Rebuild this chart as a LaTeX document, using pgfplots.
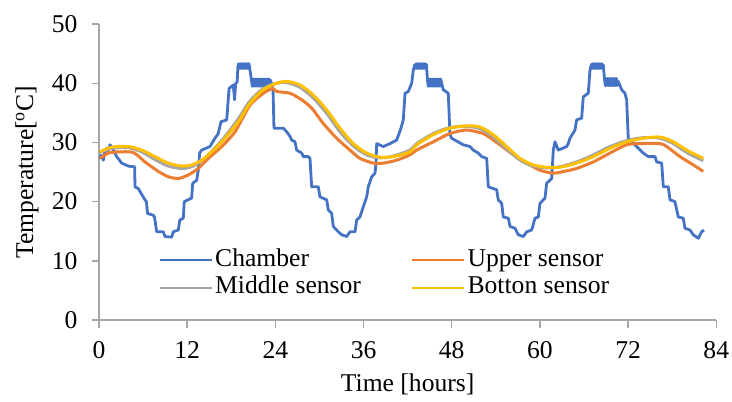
\documentclass[border=0pt]{standalone}
\usepackage{fontspec}
\setmainfont{Liberation Serif}
\usepackage{pgfplots}
\pgfplotsset{compat=1.18}

\definecolor{chamber}{HTML}{4472C4}
\definecolor{upper}{HTML}{ED7D31}
\definecolor{middle}{HTML}{A5A5A5}
\definecolor{bottom}{HTML}{FFC000}
\definecolor{axisgray}{HTML}{A6A6A6}

\newcommand{\chartfont}{\fontsize{12.8}{14}\selectfont}

\begin{document}
\begin{tikzpicture}
\begin{axis}[
  name=ax,
  width=308.65pt, height=148pt, scale only axis,
  xmin=0, xmax=84, ymin=0, ymax=50,
  xtick={0,12,...,84}, ytick={0,10,...,50},
  axis x line*=bottom, axis y line*=left,
  axis line style={axisgray, line width=0.7pt, -},
  tick align=outside, major tick length=3.75pt,
  tick style={axisgray, line width=0.7pt},
  /pgf/number format/assume math mode=true,
  tick label style={font=\chartfont},
  xticklabel style={yshift=-3.5pt},
  yticklabel style={xshift=-3.5pt},
  xlabel={Time [hours]},
  ylabel={Temperature[\textsuperscript{o}C]},
  every axis x label/.style={at={(rel axis cs:0.5,-0.243)}, anchor=base, font=\chartfont},
  every axis y label/.style={at={(rel axis cs:-0.1166,0.5)}, anchor=center, rotate=90, font=\chartfont},
  legend columns=2,
  legend style={draw=none, fill=none, inner sep=0pt,
    at={(rel axis cs:0.0961,0.25)}, anchor=north west, font=\chartfont,
    nodes={inner xsep=1.25pt, inner ysep=0.9pt, text height=9pt, text depth=3pt}},
  legend cell align=left,
  legend image code/.code={\draw[#1, line width=1pt] (0pt,0pt) -- (26pt,0pt);},
  line join=round,
]

% chamber air temperature (logger noise shows as a thick band at the plateaus)
\addplot[chamber, line width=1.4pt] coordinates {
(0,27.3)(0.3,27.8)(0.59,27.0)(0.8,28.4)(1.05,29.0)(1.2,28.6)(1.5,29.6)(1.95,28.7)
(2.41,27.6)(3.09,26.5)(3.99,26.0)(4.67,25.9)(4.85,25.9)(4.90,22.5)(5.35,22.2)
(5.58,21.7)(6.26,20.3)(6.45,20.0)(6.6,18.0)(7.39,17.7)(7.55,17.4)(7.85,14.9)
(8.75,14.9)(8.98,14.1)(9.89,14.0)(10.11,14.9)(10.79,15.2)(11.0,16.9)(11.47,17.2)
(11.60,20.0)(12.61,20.6)(12.75,23.1)(13.29,23.6)(13.51,25.3)(13.7,28.2)(13.97,28.7)
(15.10,29.3)(15.78,30.7)(16.23,31.5)(16.60,33.5)(17.38,33.8)(17.70,39.1)(18.27,39.7)
(18.45,37.2)(18.6,40.0)(18.8,40.2)(18.9,42.8)
(19.0,43.3)(19.1,42.5)(19.2,43.3)(19.3,42.5)(19.4,43.3)(19.5,42.5)(19.6,43.3)(19.7,42.5)
(19.8,43.3)(19.9,42.5)(20.0,43.3)(20.1,42.5)(20.2,43.3)(20.3,42.5)(20.4,43.3)(20.5,42.6)
(20.75,40.5)(20.85,39.5)(20.95,40.7)(21.05,39.5)(21.15,40.7)(21.25,39.5)(21.35,40.7)
(21.45,39.5)(21.55,40.7)(21.65,39.5)(21.75,40.7)(21.85,39.5)(21.95,40.7)(22.05,39.5)
(22.15,40.7)(22.25,39.5)(22.35,40.7)(22.45,39.5)(22.55,40.7)(22.65,39.5)(22.75,40.7)
(22.85,39.5)(22.95,40.7)(23.05,39.5)(23.15,40.7)(23.25,39.5)(23.35,40.5)(23.5,39.8)
(23.68,38.9)(23.81,32.4)
(25.08,32.4)(25.54,31.8)(25.99,31.0)(26.22,30.4)(26.67,30.1)(26.90,28.7)(27.58,28.2)
(27.80,27.6)(28.48,27.6)(28.71,27.3)(28.94,22.5)(29.84,22.5)(30.07,20.8)(30.98,20.3)
(31.20,18.6)(31.66,18.0)(31.88,15.8)(32.56,14.9)(33.03,14.4)(33.71,14.1)(34.15,14.9)
(34.84,14.9)(35.07,16.9)(35.51,17.4)(35.96,19.1)(36.43,20.8)(36.64,22.5)(37.11,24.2)
(37.56,24.8)(37.69,26.5)(37.79,29.8)(38.69,29.3)(39.60,29.8)(40.51,30.4)(41.09,32.4)
(41.41,33.8)(41.64,38.3)(42.09,38.6)(42.55,40.0)(42.77,42.2)
(42.95,43.1)(43.05,42.5)(43.15,43.3)(43.25,42.5)(43.35,43.3)(43.45,42.5)(43.55,43.3)
(43.65,42.5)(43.75,43.3)(43.85,42.5)(43.95,43.3)(44.05,42.5)(44.15,43.3)(44.25,42.5)
(44.35,43.3)(44.45,42.5)(44.55,43.2)
(44.7,40.5)(44.8,39.5)(44.9,40.7)(45.0,39.5)(45.1,40.7)(45.2,39.5)(45.3,40.7)(45.4,39.5)
(45.5,40.7)(45.6,39.5)(45.7,40.7)(45.8,39.5)(45.9,40.7)(46.0,39.5)(46.1,40.7)(46.2,39.5)
(46.3,40.7)(46.4,39.5)(46.5,40.7)(46.63,40.0)
(46.85,38.9)(47.53,38.3)(47.76,31.3)(47.99,30.7)(49.57,29.6)(50.48,29.3)
(50.93,28.7)(51.61,28.2)(52.08,27.6)(52.76,27.3)(52.97,22.5)(54.12,22.0)(54.33,20.3)
(54.80,19.7)(55.01,17.4)(55.70,17.2)(55.93,15.8)(56.61,15.5)(57.06,14.4)(57.74,14.1)
(58.20,14.9)(58.88,15.2)(59.33,17.2)(59.78,17.4)(60.01,19.7)(60.69,20.6)(60.92,23.1)
(61.60,23.9)(61.82,28.7)(62.05,30.1)(62.50,28.7)(63.64,29.3)(63.86,29.8)(64.09,30.7)
(64.77,32.1)(65.00,33.8)(65.68,34.1)(65.90,37.7)(66.58,38.3)(66.81,42.2)
(67.0,43.2)(67.1,42.5)(67.2,43.3)(67.3,42.5)(67.4,43.3)(67.5,42.5)(67.6,43.3)(67.7,42.5)
(67.8,43.3)(67.9,42.5)(68.0,43.3)(68.1,42.5)(68.2,43.3)(68.3,42.5)(68.4,43.3)(68.5,42.5)
(68.62,43.1)
(68.8,40.5)(68.9,39.6)(69.0,40.8)(69.1,39.6)(69.2,40.8)(69.3,39.6)(69.4,40.8)(69.5,39.6)
(69.6,40.8)(69.7,39.6)(69.8,40.8)(69.9,39.6)(70.0,40.8)(70.1,39.6)(70.2,40.8)(70.3,39.6)
(70.4,40.8)(70.5,39.6)(70.66,40.3)
(71.13,38.9)(71.57,38.3)(71.80,37.2)(72.02,30.7)(73.17,29.3)(74.06,28.2)
(74.75,27.6)(75.66,27.6)(75.89,26.7)(76.57,26.5)(76.79,22.5)(77.47,22.5)(77.70,20.3)
(78.37,20.0)(78.83,17.4)(79.51,17.2)(79.74,15.5)(80.42,15.2)(80.87,14.4)(81.55,13.8)
(82.01,14.9)(82.32,15.2)
};
\addlegendentry{\makebox[96.7pt][l]{Chamber}}

% upper sensor
\addplot[upper, line width=1.5pt, smooth, tension=0.4] coordinates {
(0.14,27.3)(1.27,28.2)(2.63,28.4)(4.67,28.3)(6.26,26.7)(8.07,25.1)(9.43,24.2)
(10.79,23.9)(12.15,24.5)(13.51,25.6)(14.87,27.3)(16.70,29.3)(18.51,31.8)(20.55,36.3)
(22.36,38.3)(23.64,39.1)(24.18,38.6)(25.99,38.3)(27.58,37.2)(28.94,35.8)(30.52,33.2)
(32.34,30.7)(34.15,28.7)(35.51,27.3)(37.32,26.5)(38.69,26.5)(40.51,27.0)(42.32,27.9)
(43.23,28.7)(45.49,30.1)(47.76,31.5)(50.03,32.1)(52.29,31.5)(52.97,31.0)(54.56,29.6)
(56.38,27.9)(58.20,26.5)(60.01,25.3)(61.82,24.8)(63.64,25.2)(65.00,25.6)(67.26,26.7)
(69.53,28.2)(71.80,29.6)(73.62,29.8)(76.34,29.8)(77.25,29.3)(79.06,27.6)(80.87,26.2)
(82.23,25.1)
};
\addlegendentry{Upper sensor}

% middle sensor
\addplot[middle, line width=1.5pt, smooth] coordinates {
(0.14,28.3)(1.73,29.0)(3.99,29.1)(5.81,28.4)(7.62,27.1)(9.43,26.0)(11.25,25.6)
(12.61,25.9)(13.97,26.9)(15.34,28.5)(17.15,31.0)(18.96,34.0)(20.55,37.0)(22.36,39.1)
(24.18,40.0)(25.54,40.1)(27.35,39.3)(29.16,37.5)(30.98,34.9)(32.79,31.8)(34.60,29.4)
(36.43,27.9)(38.24,27.4)(40.05,27.7)(42.32,28.7)(43.23,29.8)(45.49,31.5)(47.76,32.5)
(50.03,32.7)(51.84,32.3)(53.65,30.9)(55.48,28.9)(57.29,27.0)(59.10,26.0)(60.92,25.7)
(62.73,25.9)(65.00,26.7)(67.26,27.9)(69.53,29.3)(71.80,30.3)(74.06,30.8)(76.34,30.7)
(78.15,29.8)(79.97,28.3)(82.23,26.9)
};
\addlegendentry{\makebox[96.7pt][l]{Middle sensor}}

% bottom sensor
\addplot[bottom, line width=1.5pt, smooth] coordinates {
(0.14,28.4)(1.73,29.2)(3.99,29.3)(5.81,28.7)(7.62,27.6)(9.43,26.5)(11.25,26.0)
(12.61,26.2)(13.97,27.0)(15.34,28.4)(17.15,30.7)(18.96,33.5)(20.55,36.6)(22.36,38.9)
(24.18,40.0)(25.54,40.3)(27.35,39.7)(29.16,38.0)(30.98,35.5)(32.79,32.4)(34.60,29.8)
(36.43,28.2)(38.24,27.5)(40.05,27.6)(42.32,28.4)(43.23,29.6)(45.49,31.3)(47.76,32.4)
(50.03,32.8)(51.84,32.6)(53.65,31.3)(55.48,29.3)(57.29,27.3)(59.10,26.2)(60.92,25.8)
(62.73,25.8)(65.00,26.5)(67.26,27.6)(69.53,29.0)(71.80,30.1)(74.06,30.7)(76.34,30.9)
(78.15,30.1)(79.97,28.7)(82.23,27.3)
};
\addlegendentry{Botton sensor}

\end{axis}
\pgfresetboundingbox
\path ([xshift=-49.5pt,yshift=-40.5pt]ax.south west) rectangle ([xshift=7.85pt,yshift=12pt]ax.north east);
\end{tikzpicture}
\end{document}
